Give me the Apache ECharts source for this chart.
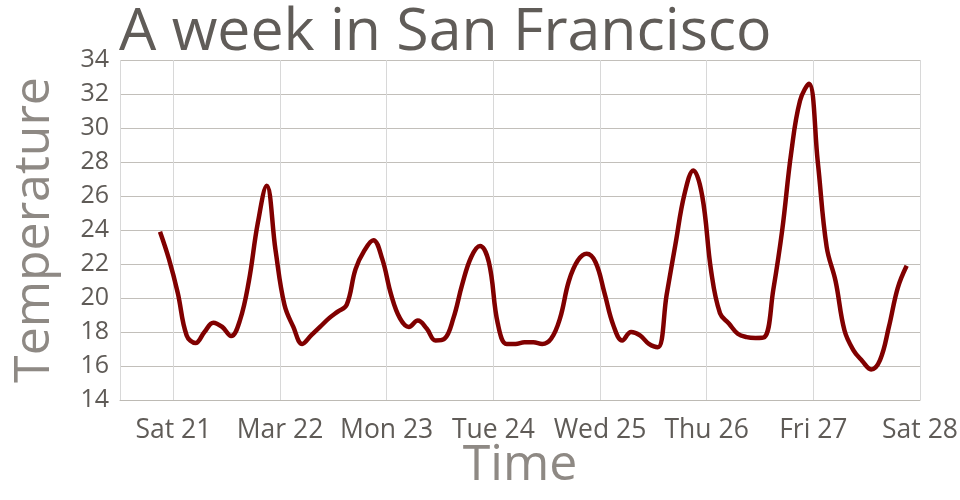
<!DOCTYPE html>
<html>
<head>
<meta charset="utf-8">
<script src="https://cdn.jsdelivr.net/npm/echarts@6/dist/echarts.min.js"></script>
<style>
  html, body { margin: 0; padding: 0; background: #fff; }
  #chart { width: 960px; height: 500px; }
</style>
</head>
<body>
<div id="chart"></div>
<script>
// hours after Sat 21 Mar 2015 00:00
const hours = [-3, -1, 1, 3, 5, 7, 9, 11, 13, 15, 17, 19, 21, 23, 25, 27, 29, 31, 33, 35,
  37, 39, 41, 43, 45, 47, 49, 51, 53, 55, 57, 59, 61, 63, 65, 67, 69, 71, 73, 75,
  77, 79, 81, 83, 85, 87, 89, 91, 93, 95, 97, 99, 101, 103, 105, 107, 109, 111, 113, 115,
  117, 119, 121, 123, 125, 127, 129, 131, 133, 135, 137, 139, 141, 143, 145, 147, 149, 151, 153, 155,
  157, 159, 161, 163, 165]
// temperature
const temps = [23.9, 22.3, 20.3, 17.8, 17.35, 18.0, 18.55, 18.3, 17.76, 18.7, 21.0, 24.4, 26.6, 22.8, 19.6, 18.3, 17.3, 17.8, 18.3, 18.8,
  19.2, 19.6, 21.7, 22.8, 23.4, 22.3, 20.2, 18.8, 18.3, 18.67, 18.2, 17.5, 17.6, 18.8, 20.8, 22.4, 23.06, 22.1, 18.5, 17.3,
  17.3, 17.4, 17.4, 17.3, 17.6, 18.8, 21.0, 22.2, 22.6, 22.1, 20.3, 18.4, 17.5, 18.0, 17.8, 17.3, 17.1, 20.2, 23.2, 26.1,
  27.5, 26.0, 21.6, 19.1, 18.5, 17.9, 17.7, 17.65, 17.7, 20.5, 24.0, 28.5, 31.6, 32.6, 28.0, 23.0, 21.0, 18.1, 16.94, 16.3,
  15.8, 16.35, 18.3, 20.6, 21.9]
const dayLabels = ['Sat 21', 'Mar 22', 'Mon 23', 'Tue 24', 'Wed 25', 'Thu 26', 'Fri 27', 'Sat 28']

const base = new Date(2015, 2, 21, 0, 0, 0).getTime()
const HOUR = 3600 * 1000
const DAY = 24 * HOUR

const chart = echarts.init(document.getElementById('chart'))
const font = 'Open Sans'

const option = {
  animation: false,
  title: {
    text: 'A week in San Francisco',
    left: 114,
    top: -1,
    textStyle: {
      fontFamily: font,
      fontWeight: 'normal',
      fontSize: 59,
      color: '#605c58'
    }
  },
  grid: {
    left: 120,
    right: 40,
    top: 60,
    bottom: 100,
    outerBoundsMode: 'none'
  },
  xAxis: {
    type: 'time',
    min: base - 12 * HOUR,
    max: base + 7 * DAY,
    minInterval: DAY,
    maxInterval: DAY,
    name: 'Time',
    nameLocation: 'middle',
    nameGap: 41,
    nameMoveOverlap: false,
    nameTextStyle: { fontFamily: font, fontSize: 50, color: '#8e8984' },
    axisLine: { show: true, lineStyle: { color: '#bdbab4', width: 1 } },
    axisTick: { show: false },
    axisLabel: {
      margin: 17,
      fontFamily: font,
      fontSize: 26.5,
      color: '#5f5b57',
      hideOverlap: false,
      showMinLabel: false,
      showMaxLabel: true,
      formatter: function (v) {
        const d = (v - base) / DAY
        if (Math.abs(d - Math.round(d)) > 1e-6) return ''
        return dayLabels[Math.round(d)] || ''
      }
    },
    splitLine: { show: true, lineStyle: { color: '#d8d8d8', width: 1 } }
  },
  yAxis: {
    type: 'value',
    min: 14,
    max: 34,
    interval: 2,
    name: 'Temperature',
    nameLocation: 'middle',
    nameGap: 60,
    nameMoveOverlap: false,
    nameTextStyle: { fontFamily: font, fontSize: 50, color: '#8e8984' },
    axisLine: { show: false },
    axisTick: { show: false },
    axisLabel: { margin: 11, fontFamily: font, fontSize: 25, color: '#5f5b57' },
    splitLine: { lineStyle: { color: '#c2bfba', width: 1 } }
  },
  series: [
    {
      type: 'line',
      smooth: 0.4,
      showSymbol: false,
      lineStyle: { color: '#800000', width: 4.5 },
      data: hours.map((h, i) => [base + h * HOUR, temps[i]])
    }
  ]
}
chart.setOption(option)
</script>
</body>
</html>
